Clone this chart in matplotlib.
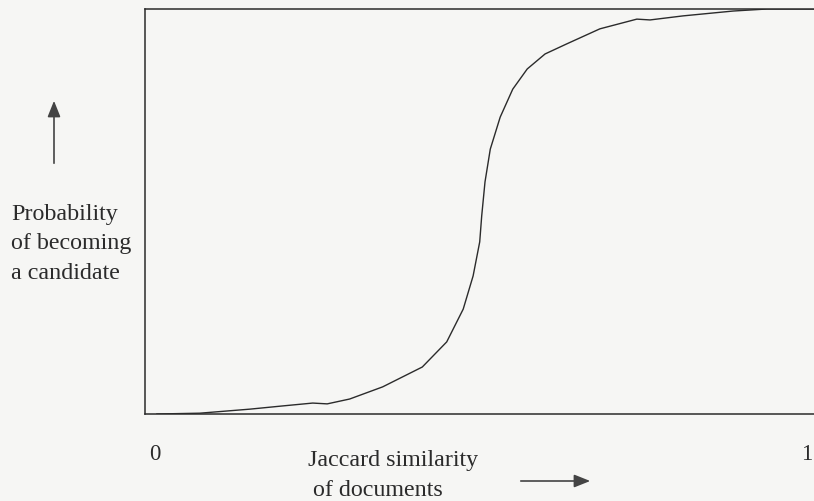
import matplotlib
matplotlib.use('Agg')
import matplotlib.pyplot as plt

# S-curve: Jaccard similarity -> probability of becoming a candidate
similarity = [0.003, 0.068, 0.144, 0.194, 0.239, 0.261, 0.295, 0.345, 0.405, 0.442,
              0.467, 0.482, 0.492, 0.495, 0.500, 0.508, 0.523, 0.542, 0.564, 0.591,
              0.624, 0.674, 0.730, 0.750, 0.800, 0.876, 0.927, 0.977, 1.0]
probability = [0.0, 0.002, 0.012, 0.020, 0.027, 0.025, 0.037, 0.067, 0.116, 0.178,
               0.259, 0.341, 0.425, 0.489, 0.573, 0.654, 0.733, 0.802, 0.852, 0.889,
               0.914, 0.951, 0.975, 0.973, 0.983, 0.995, 1.0, 1.0, 1.0]

ylabel = "Probability\nof becoming\na candidate"
xlabel1 = "Jaccard similarity"
xlabel2 = "of documents"
xticks_txt = ["0", "1"]

W, H = 814, 502
bg = '#f6f6f4'
ink = '#2b2b2b'
serif = ['Liberation Serif', 'DejaVu Serif']
fs = 17.3

fig = plt.figure(figsize=(W / 100, H / 100), dpi=100, facecolor=bg)
ax = fig.add_axes([145 / W, (H - 415) / H, 680 / W, 405 / H], facecolor=bg)
ax.plot(similarity, probability, color=ink, lw=1.0)
ax.set_xlim(-0.015, 1.015)
ax.set_ylim(0, 1)
ax.set_xticks([])
ax.set_yticks([])
for side in ['left', 'top', 'bottom']:
    ax.spines[side].set_color(ink)
    ax.spines[side].set_linewidth(1.1)
ax.spines['right'].set_visible(False)

# tick labels at 0 and 1 (the 1 sits right at the edge of the figure)
ax.text(0, -0.098, xticks_txt[0], ha='center', va='center', fontsize=16.5,
        family=serif, color=ink, clip_on=False)
fig.text(807 / W, 1 - 455 / H, xticks_txt[1], ha='center', va='center', fontsize=16.5,
         family=serif, color=ink)

# y label and its arrow
fig.text(11 / W, 1 - 244 / H, ylabel, ha='left', va='center', fontsize=fs,
         family=serif, color=ink, linespacing=1.52)
fig.add_artist(matplotlib.patches.FancyArrowPatch(
    (54 / W, 1 - 167 / H), (54 / W, 1 - 99 / H), transform=fig.transFigure,
    arrowstyle='-|>,head_length=6.5,head_width=2.6', color='#444444', lw=1.2,
    mutation_scale=1.5))

# x label and its arrow
fig.text(308 / W, 1 - 461 / H, xlabel1, ha='left', va='center', fontsize=fs,
         family=serif, color=ink)
fig.text(313 / W, 1 - 491 / H, xlabel2, ha='left', va='center', fontsize=fs,
         family=serif, color=ink)
fig.add_artist(matplotlib.patches.FancyArrowPatch(
    (518 / W, 1 - 482 / H), (593 / W, 1 - 482 / H), transform=fig.transFigure,
    arrowstyle='-|>,head_length=6.5,head_width=2.6', color='#444444', lw=1.2,
    mutation_scale=1.5))

fig.savefig('out.png', dpi=100, facecolor=bg)
